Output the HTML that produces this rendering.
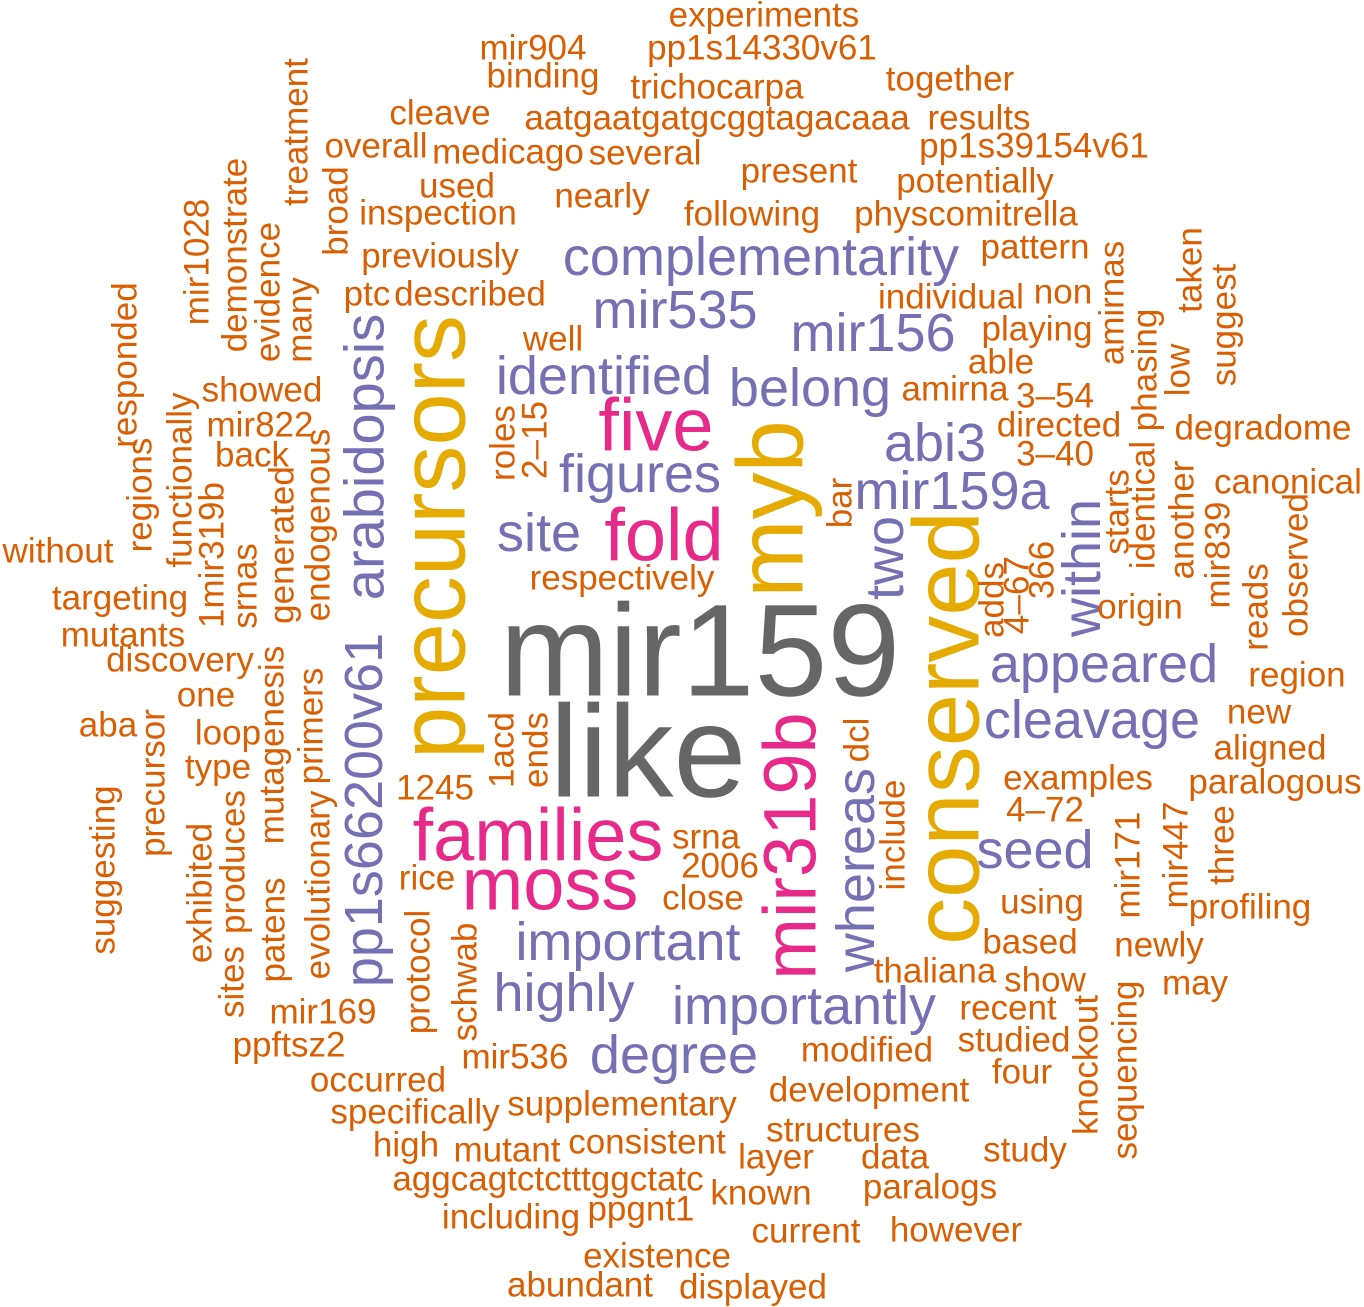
<!DOCTYPE html>
<html><head><meta charset="utf-8"><style>
html,body{margin:0;padding:0;background:#fff;}
svg{display:block;}
text{font-family:"Liberation Sans",Arial,sans-serif;text-anchor:middle;dominant-baseline:central;}
.o{fill:#D95F02;font-size:35px;}
.p{fill:#7570B3;font-size:54px;}
.k{fill:#E7298A;font-size:74px;}
.g{fill:#E6AB02;font-size:94px;}
.y{fill:#666666;font-size:131px;}
</style></head><body>
<svg width="1364" height="1307" viewBox="0 0 1364 1307" xmlns="http://www.w3.org/2000/svg">
<text class="y" x="700" y="650">mir159</text>
<text class="y" x="648" y="751">like</text>
<text class="g" x="432" y="537" transform="rotate(-90 432 537)">precursors</text>
<text class="g" x="770" y="509" transform="rotate(-90 770 509)">myb</text>
<text class="g" x="946" y="728" transform="rotate(-90 946 728)">conserved</text>
<text class="k" x="656" y="425">five</text>
<text class="k" x="664" y="535">fold</text>
<text class="k" x="538" y="835">families</text>
<text class="k" x="550" y="884">moss</text>
<text class="k" x="790" y="846" transform="rotate(-90 790 846)">mir319b</text>
<text class="p" x="761" y="257">complementarity</text>
<text class="p" x="675" y="310">mir535</text>
<text class="p" x="873" y="333">mir156</text>
<text class="p" x="604" y="376">identified</text>
<text class="p" x="810" y="388">belong</text>
<text class="p" x="364" y="457" transform="rotate(-90 364 457)" style="font-size:56px">arabidopsis</text>
<text class="p" x="935" y="443">abi3</text>
<text class="p" x="640" y="474">figures</text>
<text class="p" x="952" y="491">mir159a</text>
<text class="p" x="539" y="533">site</text>
<text class="p" x="885" y="558" transform="rotate(-90 885 558)">two</text>
<text class="p" x="1082" y="568" transform="rotate(-90 1082 568)">within</text>
<text class="p" x="364" y="810" transform="rotate(-90 364 810)">pp1s66200v61</text>
<text class="p" x="1104" y="664">appeared</text>
<text class="p" x="1092" y="720">cleavage</text>
<text class="p" x="856" y="870" transform="rotate(-90 856 870)">whereas</text>
<text class="p" x="1035" y="850">seed</text>
<text class="p" x="628" y="942">important</text>
<text class="p" x="564" y="993">highly</text>
<text class="p" x="804" y="1006">importantly</text>
<text class="p" x="674" y="1055">degree</text>
<text class="o" x="764" y="15">experiments</text>
<text class="o" x="533" y="48">mir904</text>
<text class="o" x="762" y="48">pp1s14330v61</text>
<text class="o" x="543" y="76">binding</text>
<text class="o" x="717" y="87">trichocarpa</text>
<text class="o" x="950" y="79">together</text>
<text class="o" x="440" y="113">cleave</text>
<text class="o" x="717" y="118">aatgaatgatgcggtagacaaa</text>
<text class="o" x="979" y="118">results</text>
<text class="o" x="376" y="146">overall</text>
<text class="o" x="508" y="152">medicago</text>
<text class="o" x="645" y="153">several</text>
<text class="o" x="1034" y="146">pp1s39154v61</text>
<text class="o" x="799" y="171">present</text>
<text class="o" x="457" y="186">used</text>
<text class="o" x="602" y="196">nearly</text>
<text class="o" x="975" y="181">potentially</text>
<text class="o" x="438" y="213">inspection</text>
<text class="o" x="752" y="214">following</text>
<text class="o" x="966" y="214">physcomitrella</text>
<text class="o" x="440" y="256">previously</text>
<text class="o" x="1035" y="247">pattern</text>
<text class="o" x="367" y="294">ptc</text>
<text class="o" x="470" y="294">described</text>
<text class="o" x="951" y="297">individual</text>
<text class="o" x="1063" y="292">non</text>
<text class="o" x="553" y="339">well</text>
<text class="o" x="1037" y="329">playing</text>
<text class="o" x="1001" y="362">able</text>
<text class="o" x="262" y="390">showed</text>
<text class="o" x="955" y="389">amirna</text>
<text class="o" x="1055" y="396">3–54</text>
<text class="o" x="260" y="425">mir822</text>
<text class="o" x="1059" y="425">directed</text>
<text class="o" x="1263" y="428">degradome</text>
<text class="o" x="252" y="455">back</text>
<text class="o" x="1055" y="454">3–40</text>
<text class="o" x="1288" y="482">canonical</text>
<text class="o" x="58" y="551">without</text>
<text class="o" x="622" y="578">respectively</text>
<text class="o" x="120" y="598">targeting</text>
<text class="o" x="1140" y="607">origin</text>
<text class="o" x="123" y="635">mutants</text>
<text class="o" x="180" y="660">discovery</text>
<text class="o" x="1297" y="675">region</text>
<text class="o" x="206" y="695">one</text>
<text class="o" x="1259" y="712">new</text>
<text class="o" x="108" y="725">aba</text>
<text class="o" x="228" y="733">loop</text>
<text class="o" x="218" y="767">type</text>
<text class="o" x="1270" y="748">aligned</text>
<text class="o" x="435" y="788">1245</text>
<text class="o" x="1078" y="778">examples</text>
<text class="o" x="1275" y="782">paralogous</text>
<text class="o" x="1045" y="810">4–72</text>
<text class="o" x="706" y="837">srna</text>
<text class="o" x="720" y="866">2006</text>
<text class="o" x="427" y="878">rice</text>
<text class="o" x="703" y="898">close</text>
<text class="o" x="1042" y="902">using</text>
<text class="o" x="1250" y="907">profiling</text>
<text class="o" x="1030" y="942">based</text>
<text class="o" x="1159" y="945">newly</text>
<text class="o" x="935" y="971">thaliana</text>
<text class="o" x="1045" y="980">show</text>
<text class="o" x="1195" y="983">may</text>
<text class="o" x="323" y="1012">mir169</text>
<text class="o" x="1008" y="1008">recent</text>
<text class="o" x="289" y="1045">ppftsz2</text>
<text class="o" x="1014" y="1040">studied</text>
<text class="o" x="515" y="1057">mir536</text>
<text class="o" x="867" y="1050">modified</text>
<text class="o" x="1022" y="1072">four</text>
<text class="o" x="378" y="1080">occurred</text>
<text class="o" x="869" y="1090">development</text>
<text class="o" x="415" y="1112">specifically</text>
<text class="o" x="622" y="1104">supplementary</text>
<text class="o" x="843" y="1130">structures</text>
<text class="o" x="406" y="1145">high</text>
<text class="o" x="507" y="1150">mutant</text>
<text class="o" x="647" y="1142">consistent</text>
<text class="o" x="776" y="1157">layer</text>
<text class="o" x="895" y="1157">data</text>
<text class="o" x="1025" y="1150">study</text>
<text class="o" x="548" y="1179">aggcagtctctttggctatc</text>
<text class="o" x="761" y="1193">known</text>
<text class="o" x="930" y="1187">paralogs</text>
<text class="o" x="511" y="1217">including</text>
<text class="o" x="641" y="1209">ppgnt1</text>
<text class="o" x="806" y="1231">current</text>
<text class="o" x="956" y="1230">however</text>
<text class="o" x="657" y="1256">existence</text>
<text class="o" x="580" y="1285">abundant</text>
<text class="o" x="753" y="1287">displayed</text>
<text class="o" x="296" y="132" transform="rotate(-90 296 132)">treatment</text>
<text class="o" x="336" y="211" transform="rotate(-90 336 211)">broad</text>
<text class="o" x="235" y="255" transform="rotate(-90 235 255)">demonstrate</text>
<text class="o" x="197" y="262" transform="rotate(-90 197 262)">mir1028</text>
<text class="o" x="268" y="292" transform="rotate(-90 268 292)">evidence</text>
<text class="o" x="1112" y="303" transform="rotate(-90 1112 303)">amirnas</text>
<text class="o" x="1190" y="270" transform="rotate(-90 1190 270)">taken</text>
<text class="o" x="1224" y="325" transform="rotate(-90 1224 325)">suggest</text>
<text class="o" x="300" y="320" transform="rotate(-90 300 320)">many</text>
<text class="o" x="125" y="365" transform="rotate(-90 125 365)">responded</text>
<text class="o" x="1145" y="370" transform="rotate(-90 1145 370)">phasing</text>
<text class="o" x="1178" y="370" transform="rotate(-90 1178 370)">low</text>
<text class="o" x="180" y="480" transform="rotate(-90 180 480)">functionally</text>
<text class="o" x="1143" y="505" transform="rotate(-90 1143 505)">identical</text>
<text class="o" x="503" y="443" transform="rotate(-90 503 443)">roles</text>
<text class="o" x="535" y="440" transform="rotate(-90 535 440)">2–15</text>
<text class="o" x="140" y="495" transform="rotate(-90 140 495)">regions</text>
<text class="o" x="318" y="525" transform="rotate(-90 318 525)">endogenous</text>
<text class="o" x="212" y="555" transform="rotate(-90 212 555)">1mir319b</text>
<text class="o" x="282" y="545" transform="rotate(-90 282 545)">generated</text>
<text class="o" x="840" y="503" transform="rotate(-90 840 503)">bar</text>
<text class="o" x="1117" y="512" transform="rotate(-90 1117 512)">starts</text>
<text class="o" x="1182" y="520" transform="rotate(-90 1182 520)">another</text>
<text class="o" x="1218" y="555" transform="rotate(-90 1218 555)">mir839</text>
<text class="o" x="1296" y="565" transform="rotate(-90 1296 565)">observed</text>
<text class="o" x="245" y="586" transform="rotate(-90 245 586)">srnas</text>
<text class="o" x="992" y="600" transform="rotate(-90 992 600)">adds</text>
<text class="o" x="1017" y="595" transform="rotate(-90 1017 595)">4–67</text>
<text class="o" x="1042" y="570" transform="rotate(-90 1042 570)">366</text>
<text class="o" x="1256" y="607" transform="rotate(-90 1256 607)">reads</text>
<text class="o" x="272" y="745" transform="rotate(-90 272 745)">mutagenesis</text>
<text class="o" x="311" y="726" transform="rotate(-90 311 726)">primers</text>
<text class="o" x="502" y="750" transform="rotate(-90 502 750)">1acd</text>
<text class="o" x="536" y="750" transform="rotate(-90 536 750)">ends</text>
<text class="o" x="857" y="740" transform="rotate(-90 857 740)">dcl</text>
<text class="o" x="153" y="783" transform="rotate(-90 153 783)">precursor</text>
<text class="o" x="318" y="885" transform="rotate(-90 318 885)">evolutionary</text>
<text class="o" x="893" y="835" transform="rotate(-90 893 835)">include</text>
<text class="o" x="1176" y="855" transform="rotate(-90 1176 855)">mir447</text>
<text class="o" x="1128" y="865" transform="rotate(-90 1128 865)">mir171</text>
<text class="o" x="1222" y="845" transform="rotate(-90 1222 845)">three</text>
<text class="o" x="103" y="870" transform="rotate(-90 103 870)">suggesting</text>
<text class="o" x="200" y="893" transform="rotate(-90 200 893)">exhibited</text>
<text class="o" x="233" y="862" transform="rotate(-90 233 862)">produces</text>
<text class="o" x="418" y="972" transform="rotate(-90 418 972)">protocol</text>
<text class="o" x="232" y="982" transform="rotate(-90 232 982)">sites</text>
<text class="o" x="273" y="930" transform="rotate(-90 273 930)">patens</text>
<text class="o" x="465" y="982" transform="rotate(-90 465 982)">schwab</text>
<text class="o" x="1086" y="1065" transform="rotate(-90 1086 1065)">knockout</text>
<text class="o" x="1125" y="1070" transform="rotate(-90 1125 1070)">sequencing</text>
</svg>
</body></html>
